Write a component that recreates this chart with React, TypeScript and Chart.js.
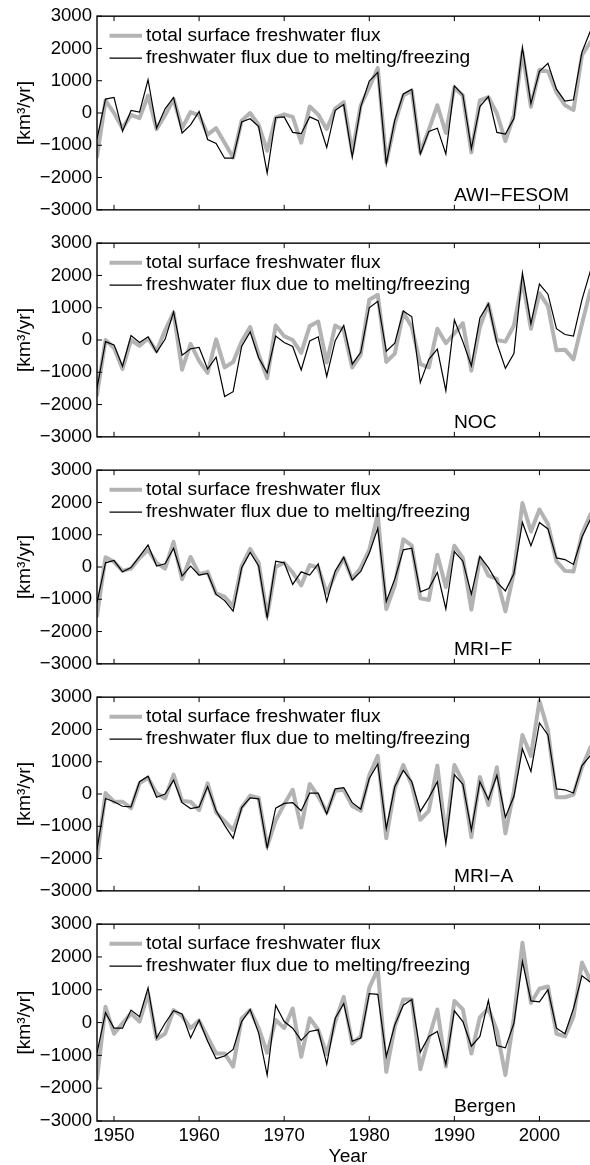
import React, { useEffect, useRef } from "react";
import { Chart, ChartConfiguration, Plugin, registerables } from "chart.js";

Chart.register(...registerables);

const YEARS = Array.from({ length: 59 }, (_, i) => 1948 + i);
const X_TICKS = [1950, 1960, 1970, 1980, 1990, 2000];
const Y_TICKS = [-3000, -2000, -1000, 0, 1000, 2000, 3000];
const LEGEND = [
  "total surface freshwater flux",
  "freshwater flux due to melting/freezing",
];
const MODELS = ["AWI\u2212FESOM", "NOC", "MRI\u2212F", "MRI\u2212A", "Bergen"];

// km3/yr, 1948-2006
const awiTotal = [
  -1350, 390, 0, -470, -60, -160, 540, -500, -70, 430,
  -470, 30, -70, -670, -470, -920, -1380, -240, 0, -370,
  -1170, -140, -40, -120, -920, 200, -50, -500, 140, 340,
  -1220, 240, 790, 1390, -1520, -320, 540, 690, -1220, -520,
  240, -620, 790, 540, -1220, 390, 490, -15, -870, -65,
  1890, 190, 1340, 1290, 640, 240, 90, 1790, 2200,
];
const awiMelt = [
  -800, 430, 480, -570, 80, 30, 1030, -470, 130, 480,
  -620, -370, 50, -820, -940, -1400, -1400, -280, -180, -420,
  -1860, -140, -120, -600, -640, -120, -240, -1070, 85, 260,
  -1370, 190, 990, 1260, -1570, -220, 590, 740, -1270, -570,
  -470, -1270, 840, 560, -1100, 200, 510, -600, -650, -170,
  2040, 290, 1290, 1540, 740, 370, 410, 1890, 2550,
];
const nocTotal = [
  -1700, 0, -250, -900, 0, -180, 50, -350, 300, 850,
  -920, -120, -650, -1020, 20, -850, -680, -50, 400, -450,
  -1180, 450, 120, 0, -400, 430, 570, -700, 450, 300,
  -850, -450, 1250, 1400, -680, -420, 850, 400, -750, -850,
  350, -100, 200, 520, -950, 400, 1120, 0, -50, 450,
  1850, 350, 1450, 1050, -320, -300, -600, 500, 1550,
];
const nocMelt = [
  -1500, -50, -150, -820, 140, -80, 100, -380, 20, 870,
  -470, -270, -230, -900, -530, -1750, -1600, -200, 250, -550,
  -1020, 120, -80, -200, -930, -30, 100, -1130, -20, 450,
  -750, -380, 1000, 1200, -350, -100, 900, 720, -1320, -600,
  -280, -1570, 620, -50, -800, 680, 1120, -100, -880, -420,
  2080, 500, 1730, 1420, 350, 170, 120, 1250, 2150,
];
const mrifTotal = [
  -1520, 300, 160, -120, -50, 280, 530, 130, -50, 780,
  -380, 310, -220, -150, -820, -920, -1220, 30, 560, 130,
  -1520, 0, 130, -170, -570, 60, -20, -820, -220, 280,
  -370, -20, 530, 1630, -1300, -570, 860, 660, -970, -1020,
  380, -620, 660, 280, -1320, 280, -270, -370, -1370, -170,
  1980, 1100, 1780, 1330, 180, -120, -140, 1030, 1630,
];
const mrifMelt = [
  -1100, 130, 200, -150, -20, 330, 680, 30, 100, 580,
  -280, 30, -250, -200, -850, -1040, -1370, -20, 450, 30,
  -1570, 180, 130, -540, -150, -250, 100, -1070, -120, 300,
  -400, -140, 430, 1200, -1070, -370, 530, 580, -770, -670,
  -170, -1300, 480, 180, -840, 330, -20, -470, -740, -200,
  1380, 660, 1380, 1180, 280, 230, 80, 930, 1480,
];
const mriaTotal = [
  -1970, 30, -240, -240, -440, 330, 500, 30, -140, 600,
  -220, -240, -500, 330, -570, -840, -1120, -420, -50, -120,
  -1620, -820, -320, 130, -1040, 310, -70, -570, 100, 130,
  -370, -520, 580, 1180, -1370, 180, 900, 280, -800, -520,
  880, -1320, 900, 380, -1340, 530, -340, 830, -1220, 80,
  1830, 1180, 2880, 1980, -100, -100, -20, 830, 1450,
];
const mriaMelt = [
  -1720, -140, -240, -380, -400, 380, 550, -100, 0, 430,
  -270, -450, -400, 230, -520, -970, -1370, -420, -120, -150,
  -1670, -440, -290, -270, -520, 30, 30, -620, 160, 200,
  -270, -470, 480, 930, -1070, 230, 730, 380, -540, -120,
  380, -1540, 600, 300, -1120, 380, -170, 580, -720, -70,
  1400, 700, 2200, 1830, 160, 130, 30, 880, 1200,
];
const bergenTotal = [
  -1720, 480, -340, -20, 280, 30, 880, -500, -340, 380,
  200, -170, 60, -440, -940, -940, -1340, 130, 380, -170,
  -920, 80, -170, 430, -1040, 130, -220, -970, 30, 780,
  -640, -420, 1060, 1630, -1500, -120, 700, 700, -1420, -470,
  400, -1340, 660, 400, -940, 160, 430, -240, -1600, 160,
  2430, 600, 1030, 1100, -340, -420, 180, 1830, 1280,
];
const bergenMelt = [
  -920, 300, -170, -170, 380, 180, 1060, -470, -20, 360,
  260, -470, 80, -570, -1100, -1020, -820, 30, 400, -320,
  -1600, 530, 30, -170, -540, -270, -220, -1270, 130, 580,
  -570, -470, 880, 860, -1040, -70, 530, 700, -900, -420,
  -270, -1270, 360, 30, -720, -420, 680, -700, -770, -20,
  1860, 660, 630, 1000, -170, -340, 430, 1430, 1230,
];

const TOTALS = [awiTotal, nocTotal, mrifTotal, mriaTotal, bergenTotal];
const MELTS = [awiMelt, nocMelt, mrifMelt, mriaMelt, bergenMelt];

const GRAY = "#b3b3b3";
const FONT = "'Liberation Sans', Arial, Helvetica, sans-serif";
const TICK_SIZE = 18.6;
const TEXT_SIZE = 19.2;
const CANVAS_W = 599;
const AXIS_LEFT = 97;
const PITCH = 227;
const PAD = 13;
const PLOT_H = 200;
const XAXIS_H = 47;

Chart.defaults.font.family = FONT;
Chart.defaults.font.size = TICK_SIZE;
Chart.defaults.color = "#000";

const fmt = (v: number) => (v < 0 ? "\u2212" + Math.abs(v) : String(v));

// box with inward ticks, legend in the upper left and model name
const matlabAxes: Plugin<"line"> = {
  id: "matlabAxes",
  afterDatasetsDraw(chart, _args, opts: any) {
    const { ctx, chartArea: a } = chart;
    const x = chart.scales.x;
    const y = chart.scales.y;
    ctx.save();
    ctx.strokeStyle = "#000";
    ctx.lineWidth = 1.4;
    ctx.strokeRect(a.left, a.top, a.right - a.left, a.bottom - a.top);

    ctx.lineWidth = 1;
    ctx.beginPath();
    X_TICKS.forEach((t) => {
      const px = x.getPixelForValue(t);
      ctx.moveTo(px, a.bottom);
      ctx.lineTo(px, a.bottom - 5);
      ctx.moveTo(px, a.top);
      ctx.lineTo(px, a.top + 5);
    });
    Y_TICKS.forEach((t) => {
      const py = y.getPixelForValue(t);
      ctx.moveTo(a.left, py);
      ctx.lineTo(a.left + 5, py);
      ctx.moveTo(a.right, py);
      ctx.lineTo(a.right - 5, py);
    });
    ctx.stroke();

    ctx.font = `${TEXT_SIZE}px ${FONT}`;
    ctx.fillStyle = "#000";
    ctx.textBaseline = "middle";
    ctx.textAlign = "left";
    const rows = [
      { color: GRAY, width: 4, dy: 19.5 },
      { color: "#000", width: 1.2, dy: 42 },
    ];
    rows.forEach((r, i) => {
      const ly = a.top + r.dy;
      ctx.beginPath();
      ctx.strokeStyle = r.color;
      ctx.lineWidth = r.width;
      ctx.moveTo(109.5, ly);
      ctx.lineTo(142, ly);
      ctx.stroke();
      ctx.fillText(LEGEND[i], 146, ly);
    });

    ctx.textBaseline = "alphabetic";
    ctx.fillText(opts.label, 454, a.bottom - 9);
    ctx.restore();
  },
};

type PanelProps = { index: number };

const Panel: React.FC<PanelProps> = ({ index }) => {
  const chartRef = useRef<HTMLCanvasElement | null>(null);
  const isLast = index === MODELS.length - 1;
  const height = isLast ? PAD + PLOT_H + XAXIS_H : PAD + PLOT_H + PAD;

  useEffect(() => {
    if (!chartRef.current) return;

    const config: ChartConfiguration<"line"> = {
      type: "line",
      data: {
        datasets: [
          {
            label: LEGEND[1],
            data: YEARS.map((yr, i) => ({ x: yr, y: MELTS[index][i] })),
            borderColor: "#000",
            borderWidth: 1.2,
            pointRadius: 0,
            tension: 0,
            order: 1,
          },
          {
            label: LEGEND[0],
            data: YEARS.map((yr, i) => ({ x: yr, y: TOTALS[index][i] })),
            borderColor: GRAY,
            borderWidth: 4,
            borderJoinStyle: "round",
            borderCapStyle: "round",
            pointRadius: 0,
            tension: 0,
            order: 2,
          },
        ],
      },
      options: {
        responsive: false,
        animation: false,
        events: [],
        layout: {
          padding: { top: PAD, bottom: isLast ? 0 : PAD, left: 0, right: 0 },
        },
        plugins: {
          legend: { display: false },
          tooltip: { enabled: false },
          matlabAxes: { label: MODELS[index] },
        } as any,
        scales: {
          x: {
            type: "linear",
            display: isLast,
            min: 1948,
            max: 2007,
            afterBuildTicks: (s) => {
              s.ticks = X_TICKS.map((v) => ({ value: v }));
            },
            afterFit: (s) => {
              if (isLast) s.height = XAXIS_H;
            },
            grid: { display: false, drawTicks: false },
            border: { display: false },
            ticks: {
              padding: 4,
              maxRotation: 0,
              autoSkip: false,
              callback: (v) => String(v),
            },
            title: {
              display: true,
              text: "Year",
              padding: 0,
              font: { size: TEXT_SIZE },
            },
          },
          y: {
            type: "linear",
            min: -3000,
            max: 3000,
            afterBuildTicks: (s) => {
              s.ticks = Y_TICKS.map((v) => ({ value: v }));
            },
            afterFit: (s) => {
              s.width = AXIS_LEFT;
            },
            grid: { display: false, drawTicks: false },
            border: { display: false },
            ticks: {
              padding: 5,
              autoSkip: false,
              callback: (v) => fmt(Number(v)),
            },
            title: {
              display: true,
              text: "[km\u00b3/yr]",
              padding: { top: 13, bottom: 0 },
              font: { size: TEXT_SIZE },
            },
          },
        },
      },
      plugins: [matlabAxes],
    };

    const myChart = new Chart(chartRef.current, config);
    return () => {
      myChart.destroy();
    };
  }, [index]);

  return (
    <canvas
      ref={chartRef}
      width={CANVAS_W}
      height={height}
      style={{
        position: "absolute",
        left: 0,
        top: index * PITCH,
        width: CANVAS_W,
        height: height,
        display: "block",
      }}
    />
  );
};

const App: React.FC = () => {
  return (
    <div
      style={{
        position: "absolute",
        left: 0,
        top: 0,
        width: 590,
        height: 1165,
        overflow: "hidden",
        background: "#fff",
      }}
    >
      {MODELS.map((m, i) => (
        <Panel key={m} index={i} />
      ))}
    </div>
  );
};

export default App;
